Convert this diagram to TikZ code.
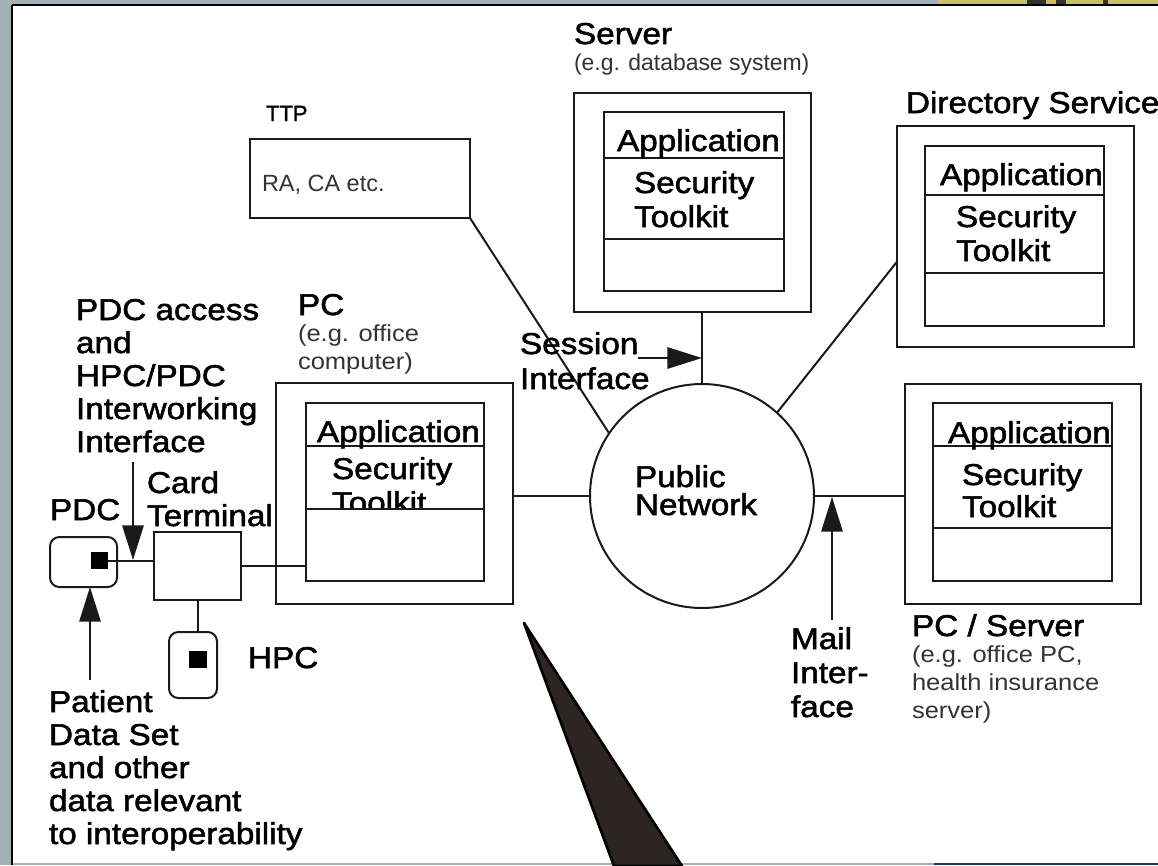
\documentclass[tikz,border=0pt]{standalone}
\usepackage{fontspec}
\usetikzlibrary{fit,arrows.meta}
\newfontfamily\labfont[FakeStretch=1.105,FakeBold=1.7]{Liberation Sans}
\newfontfamily\smallfont{Liberation Sans}
\newfontfamily\widefont[FakeStretch=1.1]{Liberation Sans}
\newfontfamily\tinybold[FakeBold=1.7]{Liberation Sans}
\definecolor{bgedge}{HTML}{A3B1B5}
\definecolor{olive}{HTML}{C4BF6A}
\definecolor{wedge}{HTML}{2D2523}
\definecolor{navy}{HTML}{123A73}
\definecolor{ink}{HTML}{1A1A1A}
\definecolor{softink}{HTML}{333333}
\tikzset{
  wire/.style={draw=ink,line width=1.5pt},
  boxnode/.style={wire,inner sep=0pt,outer sep=0pt,fill=white},
  rectbox/.style={boxnode,rectangle},
  lab/.style={anchor=base west,inner sep=0pt,outer sep=0pt,align=left,text=black,yshift=-0.75pt,
    font={\labfont\fontsize{22.6pt}{#1}\selectfont}},
  lab/.default=24.75pt,
  note/.style={anchor=base west,inner sep=0pt,outer sep=0pt,align=left,text=softink,
    font={\smallfont\fontsize{17.2pt}{21pt}\selectfont}},
  widenote/.style={note,font={\widefont\fontsize{17.4pt}{21pt}\selectfont}},
  chip/.style={boxnode,rounded corners=7pt},
  contact/.style={fill=black,inner sep=0pt,outer sep=0pt,minimum size=12.8pt,rectangle},
  pointer/.style={wire,-{Triangle[length=26pt,width=16pt]}},
}
\begin{document}
\begin{tikzpicture}[x=0.75pt,y=-0.75pt]
\useasboundingbox (0,0) rectangle (1158,865);
% page background
\fill[bgedge] (0,0) rectangle (1158,865);
\fill[olive] (937,0) rectangle (1158,5);
\fill[white] (12,5) rectangle (1158,863);
\fill[black!80] (1027,0) rectangle (1046,4);
\fill[black!80] (1056,0) rectangle (1066,4);
\fill[black!80] (1103,0) rectangle (1108,4);
\draw[black,line width=1.5pt] (12,4.5) -- (1158,4.5);
\draw[black,line width=1.5pt] (12,4.5) -- (12,865);
\fill[navy] (934,863) rectangle (1158,865);

% TTP
\node[note,font={\tinybold\fontsize{16.5pt}{20pt}\selectfont},text=black] (ttplab) at (266,121) {TTP};
\node[rectbox,fit={(250,139)(470,218)}] (ttp) {};
\node[note,font={\smallfont\fontsize{17.6pt}{20pt}\selectfont}] (ttptxt) at (262,191) {RA, CA etc.};

% Server
\node[lab] (srvlab) at (574,43) {Server};
\node[note] (srvnote) at (574,70) {(e.g. database system)};
\node[rectbox,fit={(574,93)(811,312)}] (srv) {};
\node[rectbox,fit={(604,112)(784,291)}] (srvi) {};
\draw[wire] (srvi.west |- 0,158) coordinate (srvl1) -- (srvi.east |- srvl1);
\node[lab] (srvapp) at (617,150) {Application};
\node[lab=25.5pt] (srvsec) at (634,226) {Security\\Toolkit};
\node[rectbox,fit={(604,239)(784,291)}] (srvc) {};

% Directory Service
\node[lab] (dirlab) at (906,112) {Directory Service};
\node[rectbox,fit={(897,126)(1134,347)}] (dir) {};
\node[rectbox,fit={(925,146)(1104,326)}] (diri) {};
\draw[wire] (diri.west |- 0,195) coordinate (dirl1) -- (diri.east |- dirl1);
\node[lab] (dirapp) at (940,184) {Application};
\node[lab=25.5pt] (dirsec) at (956,260) {Security\\Toolkit};
\node[rectbox,fit={(925,273)(1104,326)}] (dirc) {};

% PC
\node[lab] (pclab) at (298,314) {PC};
\node[widenote] (pcnote) at (298,369) {(e.g. office\\computer)};
\node[rectbox,fit={(276,383)(513,604)}] (pc) {};
\node[rectbox,fit={(306,403)(484,581)}] (pci) {};
\draw[wire] (pci.west |- 0,446) coordinate (pcl1) -- (pci.east |- pcl1);
\node[lab] (pcapp) at (317,441) {Application};
\node[lab=25.5pt] (pcsec) at (332,512) {Security\\Toolkit};
\node[rectbox,fit={(306,509)(484,581)}] (pcc) {};

% PC / Server
\node[lab] (pslab) at (912,635) {PC / Server};
\node[widenote] (psnote) at (912,718) {(e.g. office PC,\\health insurance\\server)};
\node[rectbox,fit={(905,384)(1141,604)}] (ps) {};
\node[rectbox,fit={(933,403)(1112,581)}] (psi) {};
\draw[wire] (psi.west |- 0,446) coordinate (psl1) -- (psi.east |- psl1);
\node[lab] (psapp) at (948,442) {Application};
\node[lab=24pt] (pssec) at (962,516) {Security\\Toolkit};
\node[rectbox,fit={(933,528)(1112,581)}] (psc) {};

% Public network
\node[boxnode,circle,minimum size=168pt] (net) at (702,496) {};
\node[lab=21pt] (netlab) at (635,514) {Public\\Network};

% Card side
\node[lab] (ctlab) at (147,525) {Card\\Terminal};
\node[rectbox,fit={(154,532)(241,600)}] (ct) {};
\node[lab] (pdclab) at (50,519) {PDC};
\node[chip,fit={(50,537)(117,587)}] (pdc) {};
\node[contact] (pdcs) at (99.5,560.5) {};
\node[lab] (hpclab) at (248,667) {HPC};
\node[chip,fit={(169,632)(217,698)}] (hpc) {};
\node[contact] (hpcs) at (198,659.5) {};

% Connectors
\draw[wire] (ttp.south east) -- (net.146);
\draw[wire] (net.north |- srv.south) -- (net.north);
\draw[wire] (dir.192) -- (net.48);
\draw[wire] (pc.east |- net.west) -- (net.west);
\draw[wire] (net.east) -- (ps.west |- net.east);
\draw[wire] (ct.east) -- (pcc.west |- ct.east);
\draw[wire] (pdcs.east) -- (ct.west |- pdcs.east);
\draw[wire] (ct.south) -- (ct.south |- hpc.north);

% Pointers
\coordinate (a1s) at (133,462);
\coordinate (a1e) at (133,560);
\draw[pointer] (a1s) -- (a1e);
\coordinate (a2s) at (90,680);
\draw[pointer] (a2s) -- (a2s |- pdc.south);
\coordinate (a3s) at (638,358);
\coordinate (a3e) at (702,358);
\draw[pointer] (a3s) -- (a3e);
\coordinate (a4s) at (832,620);
\coordinate (a4e) at (832,497);
\draw[pointer] (a4s) -- (a4e);

% Labels for pointers
\node[lab] (a1lab) at (76,451) {PDC access\\and\\HPC/PDC\\Interworking\\Interface};
\node[lab] (a2lab) at (49,843) {Patient\\Data Set\\and other\\data relevant\\to interoperability};
\node[lab=26.25pt] (a3lab) at (520,388) {Session\\Interface};
\node[lab=25.5pt] (a4lab) at (791,716) {Mail\\Inter-\\face};

% Big callout wedge
\coordinate (wt) at (524,623);
\coordinate (wl) at (614,866);
\coordinate (wr) at (682,866);
\clip (0,0) rectangle (1158,865);
\draw[fill=wedge,draw=black,line width=2pt,line join=round] (wt) -- (wl) -- (wr) -- cycle;
\end{tikzpicture}
\end{document}
